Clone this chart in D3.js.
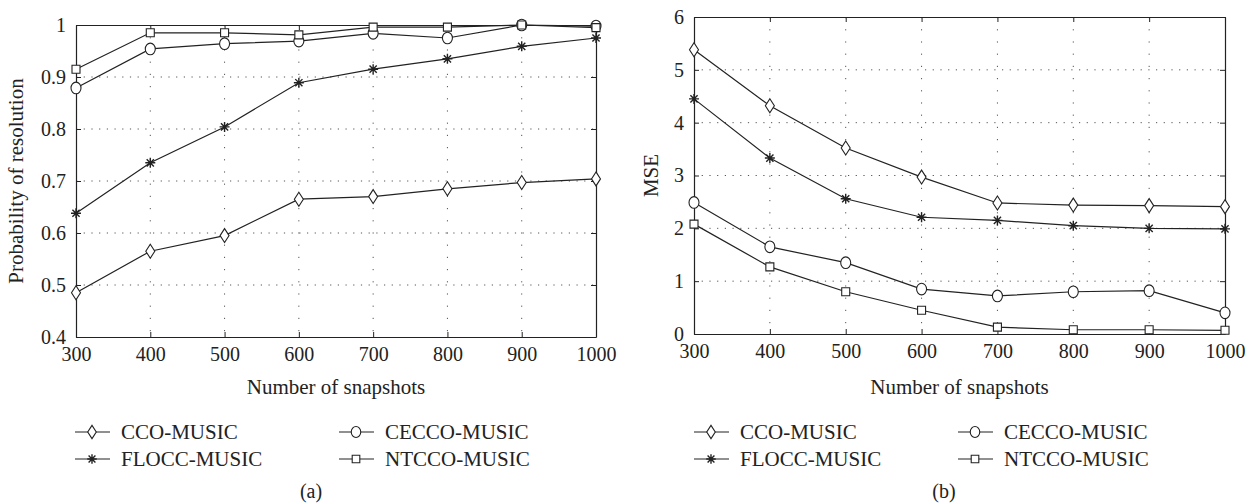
<!DOCTYPE html>
<html>
<head>
<meta charset="utf-8">
<script src="https://cdn.jsdelivr.net/npm/d3@7"></script>
<style>
  body { margin: 0; background: #fff; }
  svg text { font-family: "Liberation Serif", "DejaVu Serif", serif; fill: #222; }
</style>
</head>
<body>
<svg id="chart"></svg>
<script>
// snapshots on the x axis
const snapshots = [300, 400, 500, 600, 700, 800, 900, 1000];

const seriesNames = ["CCO-MUSIC", "CECCO-MUSIC", "FLOCC-MUSIC", "NTCCO-MUSIC"];
const seriesMarkers = ["diamond", "circle", "star", "square"];

// (a) probability of resolution
const probCCO   = [0.485, 0.565, 0.595, 0.665, 0.670, 0.685, 0.697, 0.704];
const probCECCO = [0.879, 0.954, 0.964, 0.969, 0.984, 0.975, 1.000, 0.998];
const probFLOCC = [0.638, 0.735, 0.804, 0.889, 0.915, 0.935, 0.959, 0.975];
const probNTCCO = [0.915, 0.985, 0.985, 0.981, 0.996, 0.996, 1.000, 0.995];

// (b) MSE
const mseCCO   = [5.38, 4.32, 3.52, 2.97, 2.48, 2.44, 2.43, 2.41];
const mseCECCO = [2.49, 1.65, 1.35, 0.85, 0.72, 0.80, 0.82, 0.40];
const mseFLOCC = [4.45, 3.33, 2.56, 2.21, 2.15, 2.05, 2.00, 1.99];
const mseNTCCO = [2.08, 1.27, 0.80, 0.45, 0.13, 0.08, 0.08, 0.07];

const probTicks = [0.4, 0.5, 0.6, 0.7, 0.8, 0.9, 1];
const mseTicks = [0, 1, 2, 3, 4, 5, 6];

const width = 1255, height = 504;
const ink = "#222";

const svg = d3.select("#chart").attr("width", width).attr("height", height);

// marker shapes
function markerPath(type, s) {
  const p = d3.path();
  if (type === "diamond") {
    p.moveTo(0, -7 * s); p.lineTo(4.5 * s, 0); p.lineTo(0, 7 * s); p.lineTo(-4.5 * s, 0); p.closePath();
  } else if (type === "square") {
    p.rect(-4 * s, -4 * s, 8 * s, 8 * s);
  } else if (type === "star") {
    p.moveTo(0, -5 * s); p.lineTo(0, 5 * s);
    p.moveTo(-5 * s, 0); p.lineTo(5 * s, 0);
    p.moveTo(-3.6 * s, -3.6 * s); p.lineTo(3.6 * s, 3.6 * s);
    p.moveTo(-3.6 * s, 3.6 * s); p.lineTo(3.6 * s, -3.6 * s);
  }
  return p.toString();
}

function drawMarker(g, type, x, y, s = 1) {
  if (type === "circle") {
    g.append("ellipse").attr("cx", x).attr("cy", y).attr("rx", 5 * s).attr("ry", 5.8 * s)
      .attr("fill", "#fff").attr("stroke", ink).attr("stroke-width", 1.1);
  } else {
    g.append("path").attr("d", markerPath(type, s))
      .attr("transform", `translate(${x},${y})`)
      .attr("fill", type === "star" ? "none" : "#fff")
      .attr("stroke", ink).attr("stroke-width", type === "star" ? 1.4 : 1.1);
  }
}

function drawPanel(cfg) {
  const x = d3.scaleLinear().domain([300, 1000]).range([cfg.left, cfg.right]);
  const y = d3.scaleLinear().domain(cfg.yDomain).range([cfg.bottom, cfg.top]);
  const g = svg.append("g");

  // dotted grid
  g.append("g").selectAll("line").data(snapshots.slice(1, -1)).join("line")
    .attr("x1", d => x(d)).attr("x2", d => x(d))
    .attr("y1", cfg.top).attr("y2", cfg.bottom)
    .attr("stroke", "#555").attr("stroke-width", 1).attr("stroke-dasharray", "1.2,11");
  g.append("g").selectAll("line").data(cfg.yTicks.slice(1, -1)).join("line")
    .attr("x1", cfg.left).attr("x2", cfg.right)
    .attr("y1", d => y(d)).attr("y2", d => y(d))
    .attr("stroke", "#555").attr("stroke-width", 1).attr("stroke-dasharray", "1.2,6.5");

  // axes with inward ticks, box all round
  const styleAxis = sel => {
    sel.attr("font-size", null).attr("font-family", null);
    sel.select(".domain").attr("stroke", ink).attr("stroke-width", 1.2);
    sel.selectAll(".tick line").attr("stroke", ink).attr("stroke-width", 1);
    sel.selectAll(".tick text").style("font-size", "20px").attr("fill", ink);
  };
  g.append("g").attr("transform", `translate(0,${cfg.bottom})`)
    .call(d3.axisBottom(x).tickValues(snapshots).tickSize(-5).tickSizeOuter(0).tickPadding(10).tickFormat(d3.format("d")))
    .call(styleAxis);
  g.append("g").attr("transform", `translate(0,${cfg.top})`)
    .call(d3.axisTop(x).tickValues(snapshots).tickSize(-5).tickSizeOuter(0).tickFormat(""))
    .call(styleAxis);
  g.append("g").attr("transform", `translate(${cfg.left},0)`)
    .call(d3.axisLeft(y).tickValues(cfg.yTicks).tickSize(-5).tickSizeOuter(0).tickPadding(10).tickFormat(d3.format("")))
    .call(styleAxis);
  g.append("g").attr("transform", `translate(${cfg.right},0)`)
    .call(d3.axisRight(y).tickValues(cfg.yTicks).tickSize(-5).tickSizeOuter(0).tickFormat(""))
    .call(styleAxis);

  // lines
  const line = d3.line().x((d, i) => x(snapshots[i])).y(d => y(d));
  cfg.series.forEach(vals => {
    g.append("path").datum(vals).attr("d", line)
      .attr("fill", "none").attr("stroke", ink).attr("stroke-width", 1.2);
  });
  cfg.series.forEach((vals, k) => {
    vals.forEach((v, i) => drawMarker(g, seriesMarkers[k], x(snapshots[i]), y(v)));
  });

  // labels
  g.append("text").attr("x", (cfg.left + cfg.right) / 2).attr("y", 394)
    .attr("text-anchor", "middle").style("font-size", "21px").text("Number of snapshots");
  g.append("text")
    .attr("transform", `translate(${cfg.yLabelX},${(cfg.top + cfg.bottom) / 2}) rotate(-90)`)
    .attr("text-anchor", "middle").style("font-size", "21px").text(cfg.yLabel);
  g.append("text").attr("x", cfg.captionX).attr("y", 498)
    .attr("text-anchor", "middle").style("font-size", "20px").text(cfg.caption);

  // legend
  const legendX = [cfg.legendX, cfg.legendX + 264];
  const legendY = [432, 459];
  seriesNames.forEach((name, k) => {
    const lx = legendX[k % 2], ly = legendY[Math.floor(k / 2)];
    g.append("line").attr("x1", lx).attr("x2", lx + 35).attr("y1", ly).attr("y2", ly)
      .attr("stroke", ink).attr("stroke-width", 1.2);
    drawMarker(g, seriesMarkers[k], lx + 17, ly, 0.95);
    g.append("text").attr("x", lx + 46).attr("y", ly + 7)
      .style("font-size", "21px").text(name);
  });
}

drawPanel({
  left: 76, right: 596, top: 25, bottom: 337,
  yDomain: [0.4, 1], yTicks: probTicks,
  series: [probCCO, probCECCO, probFLOCC, probNTCCO],
  yLabel: "Probability of resolution", yLabelX: 23,
  caption: "(a)", captionX: 311, legendX: 75
});

drawPanel({
  left: 694, right: 1225, top: 17, bottom: 334,
  yDomain: [0, 6], yTicks: mseTicks,
  series: [mseCCO, mseCECCO, mseFLOCC, mseNTCCO],
  yLabel: "MSE", yLabelX: 658,
  caption: "(b)", captionX: 944, legendX: 694
});
</script>
</body>
</html>
